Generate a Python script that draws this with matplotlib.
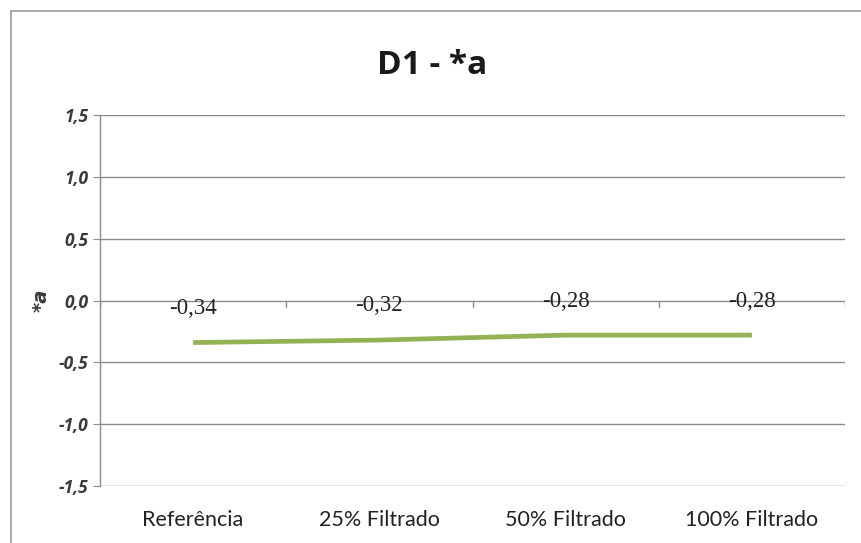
import matplotlib
matplotlib.use("Agg")
import matplotlib.pyplot as plt
from matplotlib.patches import Rectangle

categories = ["Referência", "25% Filtrado", "50% Filtrado", "100% Filtrado"]
values = [-0.34, -0.32, -0.28, -0.28]
value_labels = ["-0,34", "-0,32", "-0,28", "-0,28"]
y_ticks = [-1.5, -1.0, -0.5, 0.0, 0.5, 1.0, 1.5]
y_tick_labels = ["-1,5", "-1,0", "-0,5", "0,0", "0,5", "1,0", "1,5"]

W, H = 861, 543
fig = plt.figure(figsize=(W / 100, H / 100), dpi=100)
fig.patch.set_facecolor("white")

# outer chart border
fig.add_artist(Rectangle((11 / W, -0.01), 1.2, (H - 11) / H + 0.01,
                         transform=fig.transFigure, fill=False,
                         edgecolor="#9a9a9a", linewidth=1.2))

left, right, top, bottom = 100, 845, 115, 486
ax = fig.add_axes([left / W, 1 - bottom / H, (right - left) / W, (bottom - top) / H])
ax.set_xlim(0.5, len(categories) + 0.5)
ax.set_ylim(-1.5, 1.5)

grid_color = "#8c8c8c"
for yv in y_ticks:
    ax.axhline(yv, color=grid_color, linewidth=1.0, zorder=1)

for s in ["top", "right", "bottom"]:
    ax.spines[s].set_visible(False)
ax.spines["left"].set_color(grid_color)
ax.spines["left"].set_linewidth(1.0)

ax.set_yticks(y_ticks)
ax.set_yticklabels(y_tick_labels, fontsize=12.5, fontstyle="italic",
                   fontweight="bold", color="#3a3a3a", family="Open Sans")
ax.tick_params(axis="y", length=5, color=grid_color, pad=3)

xs = list(range(1, len(categories) + 1))
ax.set_xticks(xs)
ax.set_xticklabels(categories, fontsize=15.5, color="#222222", family="Lato")
ax.tick_params(axis="x", length=0, pad=17)

# category boundary ticks on the zero line
for b in [0.5 + i for i in range(len(categories) + 1)]:
    ax.plot([b, b], [0, -0.05], color=grid_color, linewidth=1.0, zorder=1)

ax.plot(xs, values, color="#93b254", linewidth=3.4, solid_capstyle="butt", zorder=3)

for x, v, lab in zip(xs, values, value_labels):
    ax.annotate(lab, (x, v), xytext=(0, 17), textcoords="offset points",
                ha="center", va="bottom", fontsize=16.5, color="#222222",
                family="Liberation Serif")

ax.set_ylabel("*a", fontsize=14, fontstyle="italic", fontweight="bold",
              color="#3a3a3a", labelpad=6)

fig.text(432 / W, 1 - 66 / H, "D1 - *a", ha="center", va="center",
         fontsize=24, fontweight="bold", color="#1a1a1a", family="Open Sans")

fig.savefig("out.png", dpi=100)
